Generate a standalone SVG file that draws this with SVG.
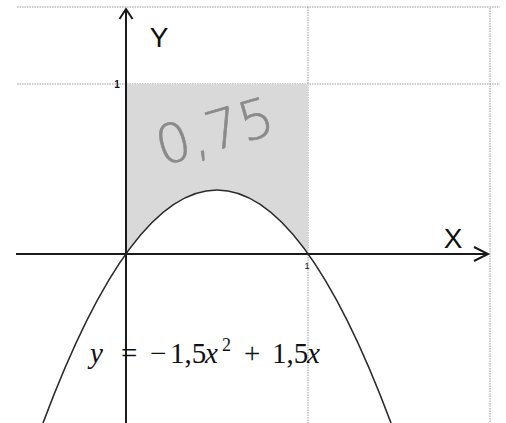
<svg xmlns="http://www.w3.org/2000/svg" width="506" height="423" viewBox="0 0 506 423">
<style>
.grid{stroke:#9a9a9a;stroke-width:1;stroke-dasharray:1.5 1;fill:none}
.axis{stroke:#1a1a1a;stroke-width:2;fill:none}
.curve{stroke:#2a2a2a;stroke-width:1.6;fill:none}
.lbl{font-family:"Liberation Sans",Arial,sans-serif;fill:#111}
.math{font-family:"Liberation Serif","DejaVu Serif",serif;fill:#111;font-size:29px}
</style>
<rect width="506" height="423" fill="#ffffff"/>
<g id="grid">
<line class="grid" x1="17" y1="7" x2="500" y2="7"/>
<line class="grid" x1="17" y1="84" x2="500" y2="84"/>
<line class="grid" x1="308" y1="7" x2="308" y2="423"/>
<line class="grid" x1="490" y1="8" x2="490" y2="423"/>
</g>
<g id="shaded-area">
<path d="M126,84 H308 V254 Q217,126.5 126,254 Z" fill="#d9d9d9"/>
</g>
<g id="connectors">
<line class="axis" x1="16" y1="254" x2="488" y2="254"/>
<polyline class="axis" points="474,247 488,254 474,261" stroke-width="1.6"/>
<line class="axis" x1="126" y1="9" x2="126" y2="423"/>
<polyline class="axis" points="119.5,19 126,9 132.5,19" stroke-width="1.6"/>
</g>
<g id="parabola">
<path class="curve" d="M43,423 Q217,-43.1 391,423"/>
</g>
<g id="labels">
<text class="lbl" x="159" y="47" font-size="28" text-anchor="middle">Y</text>
<text class="lbl" x="453" y="248" font-size="28" text-anchor="middle">X</text>
<text class="lbl" x="117" y="88" font-size="10" text-anchor="middle" font-weight="bold">1</text>
<text class="lbl" x="307" y="269" font-size="9" text-anchor="middle" fill="#555">1</text>
</g>
<g id="area-value">
<text x="162" y="166" font-family="DejaVu Sans" font-weight="200" font-size="54" fill="#8a8a8a" stroke="#8a8a8a" stroke-width="0.6" transform="rotate(-16 162 166)">0,75</text>
</g>
<g id="equation">
<text class="math" y="363"><tspan x="90" font-style="italic">y</tspan><tspan x="121">=</tspan><tspan x="150">−</tspan><tspan x="170">1,5</tspan><tspan x="205" font-style="italic">x</tspan><tspan x="222" y="351" font-size="18">2</tspan><tspan x="244" y="363">+</tspan><tspan x="272">1,5</tspan><tspan x="307" font-style="italic">x</tspan></text>
</g>
</svg>
